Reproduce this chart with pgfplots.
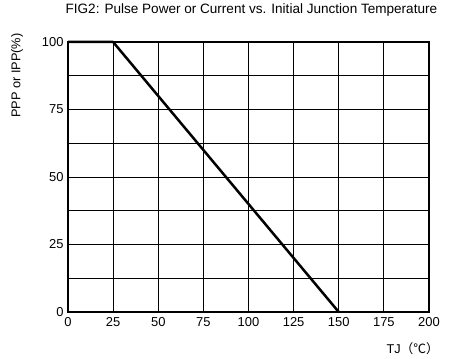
\documentclass[border=0pt]{standalone}
\usepackage{pgfplots}
\pgfplotsset{compat=1.18}
\usepackage{fontspec}
\setmainfont{Liberation Sans}
\newfontfamily\cjk{Noto Sans CJK SC}
\begin{document}
\begin{tikzpicture}[x=1bp,y=1bp]
\path[use as bounding box] (0,0) rectangle (460,358);
\begin{axis}[
  at={(68bp,46bp)}, anchor=south west,
  scale only axis, width=361bp, height=270bp,
  xmin=0, xmax=200, ymin=0, ymax=100,
  clip=false,
  xtick={0,25,...,200}, ytick={0,25,50,75,100},
  minor ytick={12.5,37.5,62.5,87.5},
  grid=both,
  major grid style={black, line width=0.8bp},
  minor grid style={black, line width=0.8bp},
  axis line style={black, line width=1.2bp},
  tick style={draw=none},
  tick label style={font=\fontsize{13}{15}\selectfont},
  /pgf/number format/assume math mode=true,
  xticklabel style={yshift=-2bp},
  yticklabel style={xshift=-1bp},
  title={FIG2: Pulse Power or Current vs. Initial Junction Temperature},
  title style={font=\fontsize{13.6}{16}\selectfont, at={(axis description cs:0.508,1.096)}, anchor=center},
  ylabel={PPP or IPP(\%)},
  ylabel style={font=\fontsize{12.8}{14}\selectfont, at={(axis description cs:-0.141,0.875)}, anchor=center, rotate=0},
  xlabel={TJ{\cjk （℃）}},
  xlabel style={font=\fontsize{12.8}{14}\selectfont, at={(axis description cs:0.955,-0.137)}, anchor=center},
]
\addplot[black, line width=2.5bp, line join=round] coordinates {(0,100) (25,100) (150,0)};
\end{axis}
\end{tikzpicture}
\end{document}
